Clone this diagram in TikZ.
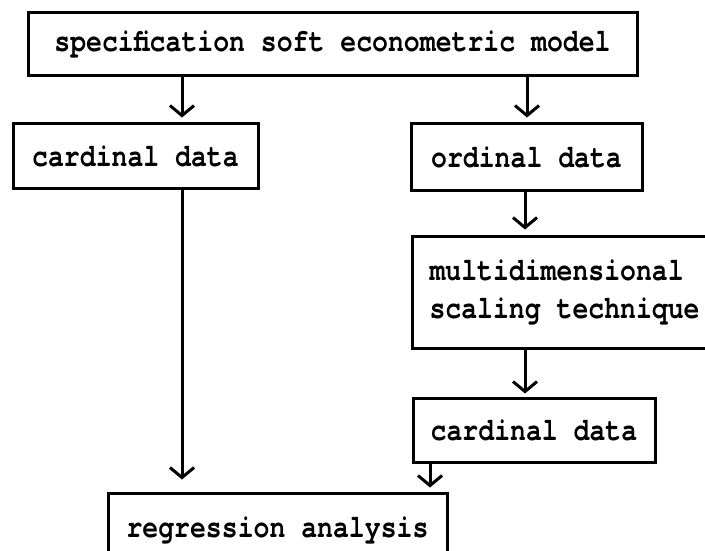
\documentclass[tikz,border=0pt]{standalone}
\usepackage{fontspec}
\setmonofont[FakeStretch=0.82]{TeX Gyre Cursor}
\usetikzlibrary{arrows.meta}
\tikzset{
  boxnode/.style={draw=black, line width=3pt, rectangle, inner sep=0pt,
    font=\fontsize{32.3}{38}\selectfont\ttfamily\bfseries},
  arr/.style={line width=3pt, -{Straight Barb[length=10pt,width=24pt,line width=3pt]}}
}
\begin{document}
\begin{tikzpicture}[x=1pt,y=-1pt]
\useasboundingbox (0,0) rectangle (705,551);
\clip (0,0) rectangle (705,551);
\fill[white] (0,0) rectangle (705,551);
\node[boxnode, minimum width=609pt, minimum height=63pt] (top) at (332.5,44.5) {specification soft econometric model};
\node[boxnode, minimum width=245pt, minimum height=64pt] (card1) at (135.5,156) {cardinal data};
\node[boxnode, minimum width=231pt, minimum height=66pt] (ord) at (526.5,157) {ordinal data};
\node[boxnode, minimum height=112pt, inner xsep=17pt, text width=285pt, align=left, anchor=west] (multi) at (411,292) {\spaceskip=0pt\relax multidimensional\\scaling technique};
\node[boxnode, minimum width=242pt, minimum height=64pt] (card2) at (534,430) {cardinal data};
\node[boxnode, minimum width=339pt, minimum height=74pt] (reg) at (277.5,530) {regression analysis};
\coordinate (xa) at (182,0);
\coordinate (xb) at (527,0);
\coordinate (xc) at (525,0);
\coordinate (xd) at (430,0);
\draw[arr, shorten >=5pt] (top.south -| xa) -- (card1.north -| xa);
\draw[arr, shorten >=5pt] (top.south -| xb) -- (ord.north -| xb);
\draw[arr, shorten >=5pt] (ord.south -| xc) -- (multi.north -| xc);
\draw[arr, shorten >=3pt] (multi.south -| xc) -- (card2.north -| xc);
\draw[arr, shorten >=12pt] (card1.south -| xa) -- (reg.north -| xa);
\draw[arr, shorten >=4pt] (card2.south -| xd) -- (reg.north -| xd);
\end{tikzpicture}
\end{document}
